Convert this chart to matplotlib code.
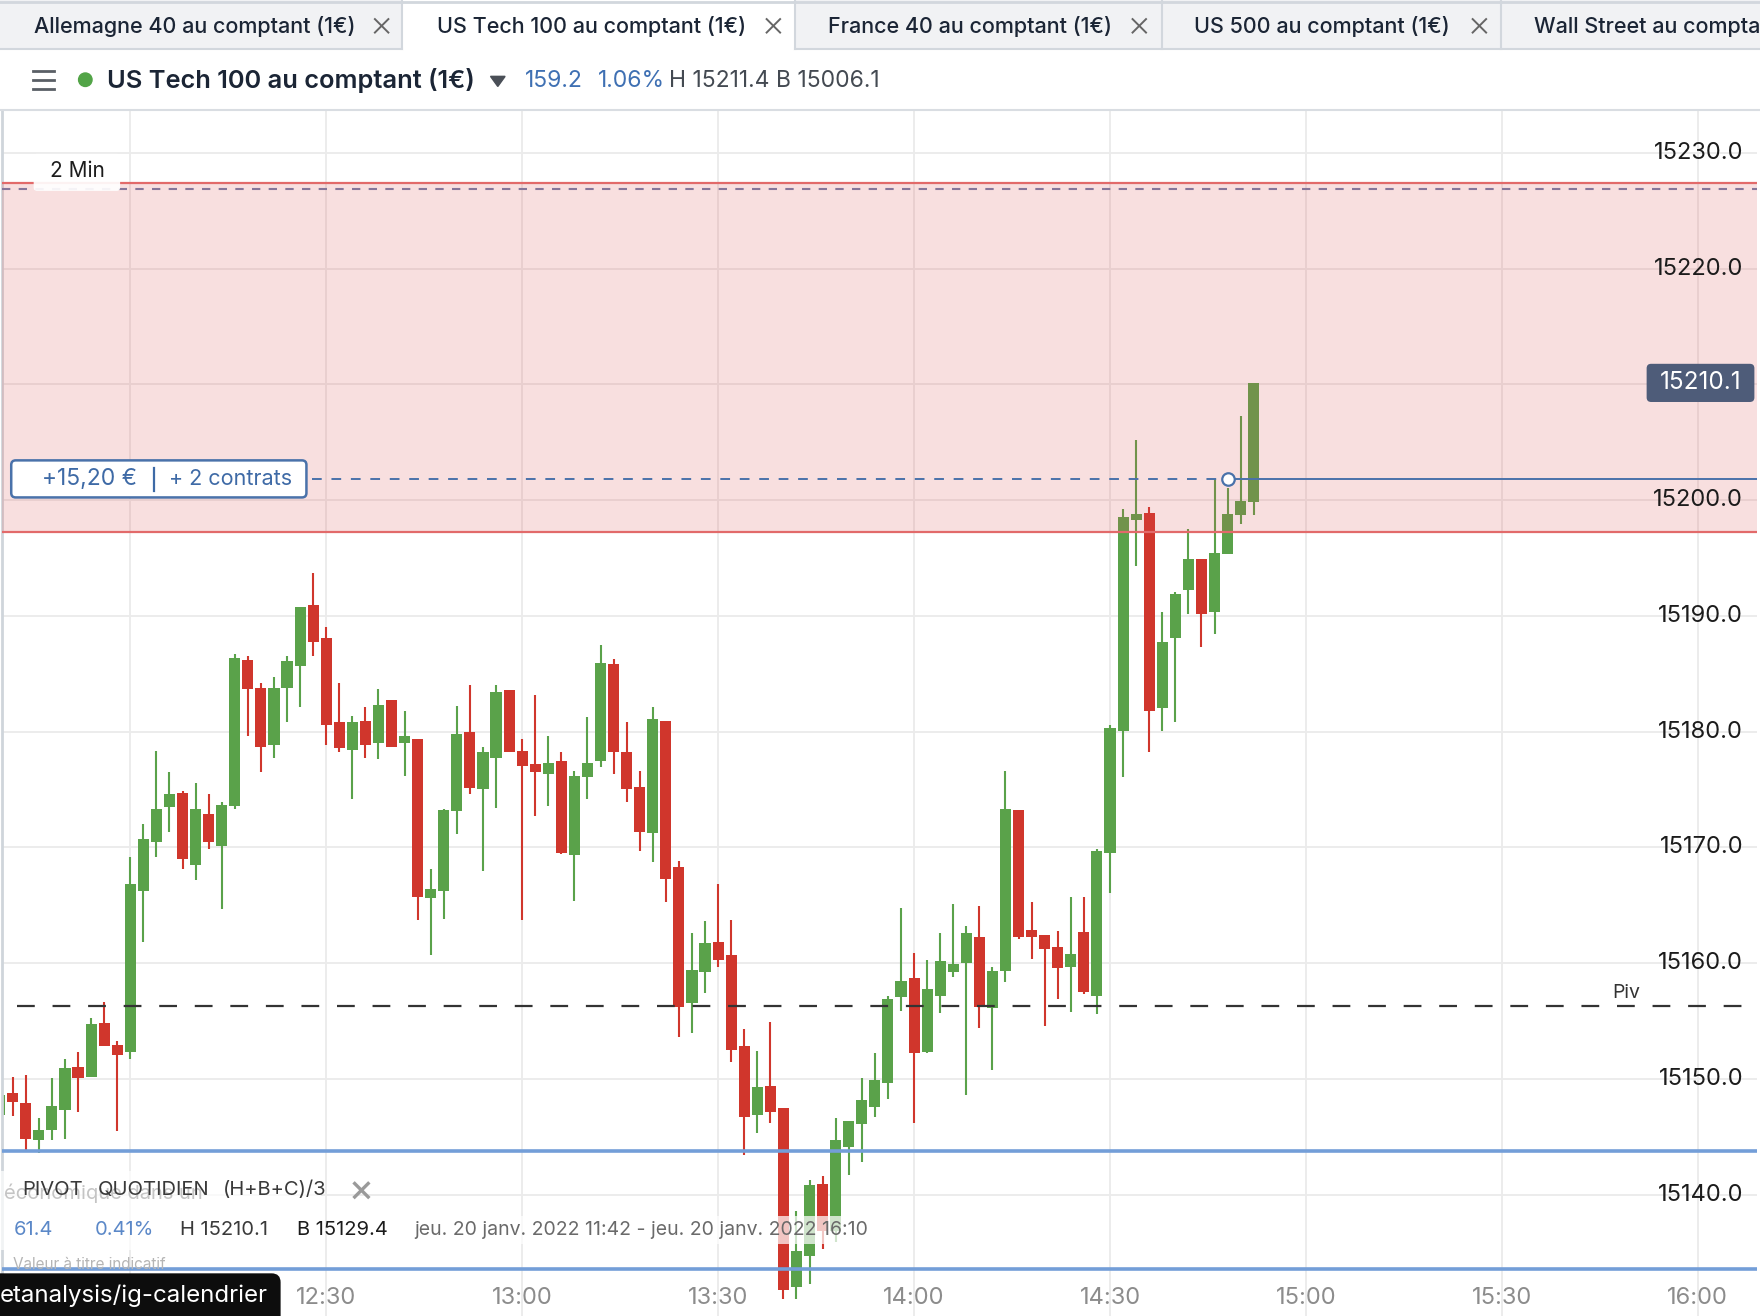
import matplotlib
matplotlib.use("Agg")
import matplotlib.pyplot as plt
import matplotlib.patches as patches
from matplotlib.transforms import blended_transform_factory

plt.rcParams['font.family'] = ['Inter', 'DejaVu Sans']

# 2 minute candles, US Tech 100, 20 Jan 2022
times = ["11:40", "11:42", "11:44", "11:46", "11:48", "11:50", "11:52", "11:54", "11:56", "11:58",
         "12:00", "12:02", "12:04", "12:06", "12:08", "12:10", "12:12", "12:14", "12:16", "12:18",
         "12:20", "12:22", "12:24", "12:26", "12:28", "12:30", "12:32", "12:34", "12:36", "12:38",
         "12:40", "12:42", "12:44", "12:46", "12:48", "12:50", "12:52", "12:54", "12:56", "12:58",
         "13:00", "13:02", "13:04", "13:06", "13:08", "13:10", "13:12", "13:14", "13:16", "13:18",
         "13:20", "13:22", "13:24", "13:26", "13:28", "13:30", "13:32", "13:34", "13:36", "13:38",
         "13:40", "13:42", "13:44", "13:46", "13:48", "13:50", "13:52", "13:54", "13:56", "13:58",
         "14:00", "14:02", "14:04", "14:06", "14:08", "14:10", "14:12", "14:14", "14:16", "14:18",
         "14:20", "14:22", "14:24", "14:26", "14:28", "14:30", "14:32", "14:34", "14:36", "14:38",
         "14:40", "14:42", "14:44", "14:46", "14:48", "14:50", "14:52"]
opens = [15146.9, 15148.75, 15147.9, 15144.7, 15145.6, 15147.3, 15151.0, 15150.2, 15154.8, 15152.9,
         15152.3, 15166.2, 15170.5, 15173.5, 15174.7, 15168.5, 15172.9, 15170.1, 15173.6, 15186.2,
         15183.8, 15178.8, 15183.8, 15185.7, 15190.9, 15188.1, 15180.8, 15178.45, 15180.9, 15179.0,
         15182.7, 15179.0, 15179.4, 15165.6, 15166.2, 15173.1, 15180.0, 15175.0, 15177.7, 15183.6,
         15178.3, 15177.2, 15176.3, 15177.5, 15169.3, 15176.1, 15177.5, 15185.8, 15178.25, 15175.2,
         15171.2, 15180.9, 15168.3, 15156.55, 15159.2, 15161.8, 15160.7, 15152.8, 15146.9, 15149.4,
         15147.5, 15132.0, 15134.7, 15140.9, 15136.9, 15144.1, 15146.1, 15147.6, 15149.65, 15157.1,
         15158.7, 15152.3, 15157.2, 15159.2, 15160.0, 15162.3, 15156.1, 15159.3, 15173.2, 15162.9,
         15162.4, 15161.4, 15159.7, 15162.7, 15157.2, 15169.5, 15180.05, 15198.3, 15198.9, 15182.0,
         15188.1, 15192.2, 15194.9, 15190.3, 15195.3, 15198.7, 15199.8]
highs = [15149.2, 15150.2, 15150.3, 15146.6, 15150.1, 15151.7, 15152.3, 15155.3, 15156.6, 15153.3,
         15169.2, 15172.0, 15178.3, 15176.5, 15174.9, 15175.6, 15174.6, 15173.9, 15186.7, 15186.5,
         15184.2, 15184.7, 15186.5, 15190.8, 15193.7, 15189.0, 15184.2, 15181.35, 15182.1, 15183.7,
         15182.7, 15181.8, 15179.4, 15168.1, 15173.3, 15182.2, 15184.0, 15178.7, 15184.0, 15183.6,
         15179.4, 15183.2, 15179.6, 15178.2, 15176.6, 15181.3, 15187.5, 15186.3, 15180.8, 15176.6,
         15182.1, 15180.9, 15168.85, 15162.6, 15163.6, 15166.8, 15163.7, 15154.3, 15152.4, 15154.9,
         15147.5, 15138.6, 15141.3, 15141.6, 15146.6, 15146.4, 15150.1, 15152.2, 15157.2, 15164.8,
         15160.9, 15160.3, 15162.6, 15165.1, 15163.25, 15164.9, 15159.7, 15176.6, 15173.2, 15165.3,
         15162.4, 15162.8, 15165.7, 15165.7, 15169.9, 15180.6, 15199.2, 15205.2, 15199.4, 15190.3,
         15192.1, 15197.5, 15194.9, 15201.8, 15201.0, 15207.3, 15210.1]
lows = [15146.3, 15146.8, 15143.9, 15143.6, 15144.7, 15144.8, 15147.1, 15150.2, 15152.8, 15145.5,
        15151.7, 15161.85, 15169.2, 15171.3, 15168.1, 15167.2, 15169.9, 15164.7, 15173.3, 15179.6,
        15176.5, 15177.7, 15180.8, 15182.1, 15186.5, 15178.8, 15178.25, 15174.2, 15177.7, 15177.6,
        15178.7, 15176.2, 15163.75, 15160.7, 15163.8, 15171.15, 15174.6, 15168.0, 15173.4, 15178.2,
        15163.75, 15172.7, 15173.6, 15169.4, 15165.4, 15174.2, 15176.9, 15176.3, 15173.9, 15169.7,
        15168.7, 15165.3, 15153.6, 15154.0, 15157.4, 15159.7, 15151.5, 15143.4, 15145.3, 15146.2,
        15131.0, 15131.0, 15132.3, 15135.3, 15135.9, 15141.7, 15142.8, 15146.7, 15148.3, 15155.9,
        15146.2, 15152.2, 15155.7, 15158.8, 15148.6, 15154.4, 15150.8, 15158.4, 15162.1, 15160.4,
        15154.6, 15156.9, 15155.8, 15157.3, 15155.6, 15166.1, 15176.1, 15194.3, 15178.2, 15180.05,
        15180.8, 15190.2, 15187.3, 15188.4, 15195.3, 15197.9, 15198.7]
closes = [15148.65, 15148.0, 15144.8, 15145.6, 15147.7, 15150.9, 15150.1, 15154.7, 15152.8, 15152.1,
          15166.8, 15170.7, 15173.3, 15174.6, 15169.0, 15173.3, 15170.5, 15173.7, 15186.4, 15183.7,
          15178.7, 15183.8, 15186.1, 15190.8, 15187.7, 15180.6, 15178.6, 15180.8, 15178.8, 15182.3,
          15178.7, 15179.6, 15165.7, 15166.4, 15173.2, 15179.8, 15175.1, 15178.2, 15183.4, 15178.25,
          15177.0, 15176.5, 15177.3, 15169.5, 15176.2, 15177.3, 15185.9, 15178.2, 15175.0, 15171.3,
          15181.1, 15167.25, 15156.2, 15159.4, 15161.7, 15160.3, 15152.5, 15146.7, 15149.3, 15147.1,
          15131.8, 15135.1, 15140.8, 15136.9, 15144.7, 15146.4, 15148.2, 15149.9, 15156.9, 15158.5,
          15152.2, 15157.8, 15160.2, 15159.9, 15162.6, 15156.2, 15159.3, 15173.3, 15162.3, 15162.3,
          15161.2, 15159.6, 15160.8, 15157.5, 15169.7, 15180.3, 15198.5, 15198.8, 15181.8, 15187.7,
          15191.9, 15194.9, 15190.2, 15195.4, 15198.8, 15199.9, 15210.1]

price_ticks = [15140, 15150, 15160, 15170, 15180, 15190, 15200, 15210, 15220, 15230]
time_ticks = ["12:00", "12:30", "13:00", "13:30", "14:00", "14:30", "15:00", "15:30", "16:00"]
pivot = 15156.3
zone_low, zone_high, zone_dash = 15197.25, 15227.4, 15226.9
position_level = 15201.8
position_time = "14:48"
support_lines = [15143.8, 15133.6]
last_price = 15210.1

tabs = ["Allemagne 40 au comptant (1€)", "US Tech 100 au comptant (1€)",
        "France 40 au comptant (1€)", "US 500 au comptant (1€)", "Wall Street au comptant (1€)"]


def to_min(s):
    h, m = s.split(":")
    return int(h) * 60 + int(m)


GREEN = "#5aa24a"
RED = "#d0362c"
GRID = "#ebebeb"
BLUE = "#4a72aa"

W, H = 1568, 1172  # layout coords (scaled to 1760x1316)
fig = plt.figure(figsize=(17.6, 13.16), dpi=100)
fig.patch.set_facecolor("white")

# ---- chart axes ----
ax = fig.add_axes([2 / W, 0, (1565 - 2) / W, 1 - 98 / H])
xmin, xmax = 700.4, 969.0
ymin, ymax = 15129.52, 15233.69
ax.set_xlim(xmin, xmax)
ax.set_ylim(ymin, ymax)
for s in ax.spines.values():
    s.set_visible(False)
ax.spines["left"].set_visible(True)
ax.spines["left"].set_color("#cfd5db")
ax.spines["left"].set_linewidth(2)
ax.set_xticks([])
ax.set_yticks([])

for p in price_ticks:
    ax.axhline(p, color=GRID, lw=1.3, zorder=0)
for t in time_ticks:
    ax.axvline(to_min(t), color=GRID, lw=1.3, zorder=0)

# candles
xs = [to_min(t) for t in times]
for x, o, hi, lo, c in zip(xs, opens, highs, lows, closes):
    col = GREEN if c >= o else RED
    ax.vlines(x, lo, hi, color=col, lw=1.5, zorder=2)
    ax.bar(x, max(abs(c - o), 0.2), width=1.7, bottom=min(o, c), color=col, lw=0, zorder=2)

# red zone overlay
ax.axhspan(zone_low, zone_high, color="#dc5050", alpha=0.18, lw=0, zorder=3)
ax.axhline(zone_low, color="#e26a6a", lw=1.6, zorder=4)
ax.axhline(zone_high, color="#e26a6a", lw=1.6, zorder=4)
zl, = ax.plot([xmin, xmax], [zone_dash, zone_dash], color="#86769a", lw=1.5, zorder=4)
zl.set_dashes((4, 4))

# pivot
pl, = ax.plot([702.6, xmax], [pivot, pivot], color="#333333", lw=1.6, zorder=4)
pl.set_dashes((8, 8))
ax.text(949, 15157.45, "Piv", fontsize=14, color="#333333", ha="center", va="center", zorder=5)

# support lines
for lv in support_lines:
    ax.axhline(lv, color="#739ed8", lw=2.6, zorder=4)

# position line
px = to_min(position_time)
dl, = ax.plot([747.8, px], [position_level, position_level], color=BLUE, lw=1.4, zorder=5)
dl.set_dashes((5, 5))
ax.plot([px, xmax], [position_level, position_level], color=BLUE, lw=1.4, zorder=5)
ax.plot([px], [position_level], marker="o", ms=9, mfc="white", mec=BLUE, mew=1.6, zorder=6)

# price labels
tr = blended_transform_factory(ax.transAxes, ax.transData)
for p in price_ticks:
    if p == 15210:
        continue
    ax.text(0.9923, p, f"{p:.1f}", transform=tr, ha="right", va="center",
            fontsize=17, color="#1c1c1c", zorder=7)
for t in time_ticks[1:]:
    ax.text(to_min(t), 15131.07, t, ha="center", va="center", fontsize=17,
            color="#8c8c8c", zorder=7)

# ---- overlay for header and floating widgets ----
ov = fig.add_axes([0, 0, 1, 1], zorder=10)
ov.set_xlim(0, W)
ov.set_ylim(H, 0)
ov.axis("off")

# tab bar
ov.add_patch(patches.Rectangle((0, 0), W, 44, color="#f1f2f4", lw=0))
ov.add_patch(patches.Rectangle((358, 0), 350, 46, color="white", lw=0))
ov.plot([0, W], [1.5, 1.5], color="#d2d7dd", lw=2)
ov.plot([0, 358], [44, 44], color="#d2d7dd", lw=1.5)
ov.plot([708, W], [44, 44], color="#d2d7dd", lw=1.5)
for sx in [358, 708, 1035, 1337]:
    ov.plot([sx, sx], [0, 44], color="#d2d7dd", lw=1.5)
tab_x = [30, 389, 738, 1064, 1367]
close_x = [340, 689, 1015, 1318, None]
for label, tx, cx in zip(tabs, tab_x, close_x):
    ov.text(tx, 24, label, fontsize=15.5, color="#1b2535", ha="left", va="center", fontweight="medium")
    if cx is not None:
        ov.plot([cx - 6, cx + 6], [17, 29], color="#666666", lw=1.4)
        ov.plot([cx - 6, cx + 6], [29, 17], color="#666666", lw=1.4)

# instrument row
ov.plot([0, W], [98, 98], color="#d9dde2", lw=1.5)
for hy in [63, 71, 79]:
    ov.plot([29, 48], [hy, hy], color="#5a5f66", lw=2)
ov.add_patch(patches.Circle((76, 71), 6, color="#52a447"))
ov.text(95, 72, "US Tech 100 au comptant (1€)", fontsize=18.3, color="#1b2535",
        ha="left", va="center", fontweight="semibold")
ov.add_patch(patches.Polygon([[437, 68], [450, 68], [443.5, 77]], color="#4a4f57"))
ov.text(468, 72, "159.2", fontsize=16.5, color="#3f70b3", ha="left", va="center")
ov.text(533, 72, "1.06%", fontsize=16.5, color="#3f70b3", ha="left", va="center")
ov.text(596, 72, "H 15211.4 B 15006.1", fontsize=16.5, color="#444a52", ha="left", va="center")

# timeframe label
ov.add_patch(patches.FancyBboxPatch((30, 137), 77, 33, boxstyle="round,pad=0,rounding_size=3",
                                    fc="white", ec="none", alpha=0.92))
ov.text(69, 152, "2 Min", fontsize=15, color="#1c1c1c", ha="center", va="center")

# position box
ov.add_patch(patches.FancyBboxPatch((10, 410), 263, 33, boxstyle="round,pad=0,rounding_size=4",
                                    fc="white", ec=BLUE, lw=1.8))
ov.text(80, 427, "+15,20 €", fontsize=16.5, color="#3e6aa6", ha="center", va="center")
ov.plot([137, 137], [417, 437], color="#3e6aa6", lw=1.6)
ov.text(205, 427, "+ 2 contrats", fontsize=15.5, color="#3e6aa6", ha="center", va="center")

# last price box
ov.add_patch(patches.FancyBboxPatch((1467, 324), 96, 34, boxstyle="round,pad=0,rounding_size=4",
                                    fc="#4e5c79", ec="none"))
ov.text(1515, 341, f"{last_price:.1f}", fontsize=17.5, color="white", ha="center", va="center")

# indicator legend
ov.add_patch(patches.Rectangle((0, 1043), 286, 70, fc="white", ec="none", alpha=0.72))
ov.add_patch(patches.Rectangle((362, 1083), 420, 25, fc="white", ec="none", alpha=0.72))
ov.text(4, 1063, "économique dans un", fontsize=14.5, color="#c4c4c4", ha="left", va="center")
ov.text(20, 1060, "PIVOT", fontsize=14.5, color="#3a3a3a", ha="left", va="center")
ov.text(87, 1060, "QUOTIDIEN", fontsize=14.5, color="#3a3a3a", ha="left", va="center")
ov.text(199, 1060, "(H+B+C)/3", fontsize=14.5, color="#3a3a3a", ha="left", va="center")
ov.plot([316, 328], [1054, 1066], color="#9a9a9a", lw=2.4)
ov.plot([316, 328], [1066, 1054], color="#9a9a9a", lw=2.4)
ov.text(12, 1095, "61.4", fontsize=14.5, color="#5b88c8", ha="left", va="center")
ov.text(84, 1095, "0.41%", fontsize=14.5, color="#5b88c8", ha="left", va="center")
ov.text(160, 1095, "H 15210.1", fontsize=14.5, color="#3a3a3a", ha="left", va="center")
ov.text(265, 1095, "B 15129.4", fontsize=14.5, color="#1c1c1c", ha="left", va="center")
ov.text(369, 1095, "jeu. 20 janv. 2022 11:42 - jeu. 20 janv. 2022 16:10", fontsize=14,
        color="#6a6a6a", ha="left", va="center")
ov.text(12, 1126, "Valeur à titre indicatif", fontsize=11, color="#b5b5b5", ha="left", va="center")

# dark tooltip at bottom left
ov.add_patch(patches.FancyBboxPatch((-12, 1134), 262, 50, boxstyle="round,pad=0,rounding_size=8",
                                    fc="#0d0d0d", ec="none"))
ov.text(0, 1154, "etanalysis/ig-calendrier", fontsize=17.3, color="white", ha="left", va="center")

fig.savefig("out.png", dpi=100, facecolor="white")
